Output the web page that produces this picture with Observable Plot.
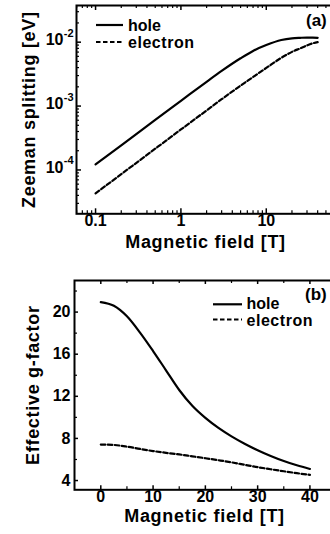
<!DOCTYPE html>
<html><head><meta charset="utf-8">
<script src="https://cdn.jsdelivr.net/npm/d3@7"></script>
<script src="https://cdn.jsdelivr.net/npm/@observablehq/plot@0.6"></script>
<style>
html,body{margin:0;padding:0;background:#fff;overflow:hidden;}
#chart svg{display:block;max-width:none !important;}
</style></head><body><div id="chart"></div>
<script>
// ---- Panel (a): Zeeman splitting vs magnetic field (log-log)
const fieldA = [0.1, 0.2, 0.5, 1, 2, 3, 5, 7, 10, 15, 20, 25, 30, 35, 40];
const holeSplit = [1.22e-4, 2.43e-4, 6.1e-4, 1.21e-3, 2.4e-3, 3.55e-3, 5.6e-3, 7.3e-3, 9.0e-3, 1.08e-2, 1.15e-2, 1.17e-2, 1.18e-2, 1.175e-2, 1.17e-2];
const electronSplit = [4.3e-5, 8.6e-5, 2.15e-4, 4.3e-4, 8.55e-4, 1.28e-3, 2.09e-3, 2.85e-3, 3.95e-3, 5.7e-3, 7.05e-3, 8.0e-3, 8.9e-3, 9.6e-3, 1.0e-2];
const xTicksA = [0.1, 1, 10];
const xTickLabelsA = ["0.1", "1", "10"];
const yTicksA = [1e-4, 1e-3, 1e-2];
const yTickExpA = ["-4", "-3", "-2"];

// ---- Panel (b): effective g-factor vs magnetic field
const fieldB = [0, 2.5, 5, 7.5, 10, 12.5, 15, 17.5, 20, 22.5, 25, 27.5, 30, 32.5, 35, 37.5, 40];
const holeG = [20.95, 20.6, 19.6, 18.05, 16.3, 14.45, 12.6, 11.1, 9.95, 9.0, 8.2, 7.5, 6.88, 6.33, 5.85, 5.45, 5.1];
const electronG = [7.42, 7.38, 7.22, 7.0, 6.8, 6.63, 6.48, 6.3, 6.12, 5.93, 5.73, 5.5, 5.27, 5.07, 4.88, 4.7, 4.54];
const xTicksB = [0, 10, 20, 30, 40];
const yTicksB = [4, 8, 12, 16, 20];

const seriesNames = ["hole", "electron"];
const panelTags = ["(a)", "(b)"];
const xTitle = "Magnetic field [T]";
const yTitleA = "Zeeman splitting [eV]";
const yTitleB = "Effective g-factor";

const FONT = "'Liberation Sans', Arial, Helvetica, sans-serif";
const W = 334;
const DASH = "4.5,2.5";

function legend(svg, x1, x2, y1, y2, tx, b1, b2) {
  const g = d3.select(svg).append("g")
    .attr("font-family", FONT).attr("font-weight", "bold").attr("font-size", 16)
    .attr("fill", "black").attr("text-anchor", "start");
  g.append("line").attr("x1", x1).attr("x2", x2).attr("y1", y1).attr("y2", y1)
    .attr("stroke", "black").attr("stroke-width", 2.2);
  g.append("line").attr("x1", x1).attr("x2", x2).attr("y1", y2).attr("y2", y2)
    .attr("stroke", "black").attr("stroke-width", 2.2).attr("stroke-dasharray", DASH);
  g.append("text").attr("x", tx).attr("y", b1).text(seriesNames[0]);
  g.append("text").attr("x", tx).attr("y", b2).attr("textLength", 66).attr("lengthAdjust", "spacing").text(seriesNames[1]);
  return g;
}
function tag(svg, x, y, t) {
  d3.select(svg).append("text").attr("x", x).attr("y", y).attr("text-anchor", "start")
    .attr("font-family", FONT).attr("font-weight", "bold").attr("font-size", 17).attr("fill", "black").text(t);
}
function spaceTitles(svg) {
  d3.select(svg).selectAll("text").filter(function() {
    const t = this.textContent; return t === xTitle || t === yTitleA || t === yTitleB;
  }).style("letter-spacing", "0.7px");
}

// ---------- Panel (a)
const hA = 265, mTopA = 5, mBotA = 265 - 213.3, mLeftA = 76;
const innerHA = hA - mTopA - mBotA, innerWA = W - mLeftA;
const xDomA = [0.0598, 63];
const yDomA = [2.06e-5, 0.0375];
const xMinorA = d3.scaleLog().domain(xDomA).ticks().filter(d => !xTicksA.some(t => Math.abs(t / d - 1) < 1e-6));
const yMinorA = d3.scaleLog().domain(yDomA).ticks().filter(d => !yTicksA.some(t => Math.abs(t / d - 1) < 1e-6));

const plotA = Plot.plot({
  width: W, height: hA, marginTop: mTopA, marginBottom: mBotA, marginLeft: mLeftA, marginRight: 0,
  style: {fontFamily: FONT, fontWeight: "bold", color: "black", background: "white", overflow: "visible"},
  x: {type: "log", domain: xDomA, axis: null},
  y: {type: "log", domain: yDomA, axis: null},
  marks: [
    Plot.line(fieldA, {x: d => d, y: (d, i) => holeSplit[i], stroke: "black", strokeWidth: 2.2, curve: "monotone-x"}),
    Plot.line(fieldA, {x: d => d, y: (d, i) => electronSplit[i], stroke: "black", strokeWidth: 2.2, strokeDasharray: DASH, curve: "monotone-x"}),
    Plot.tickX(xMinorA, {x: d => d, insetTop: innerHA - 3, stroke: "black", strokeWidth: 1.2}),
    Plot.tickX(xMinorA, {x: d => d, insetBottom: innerHA - 3, stroke: "black", strokeWidth: 1.2}),
    Plot.tickY(yMinorA, {y: d => d, insetRight: innerWA - 3, stroke: "black", strokeWidth: 1.2}),
    Plot.tickX(xTicksA, {x: d => d, insetTop: innerHA - 5, stroke: "black", strokeWidth: 1.5}),
    Plot.tickX(xTicksA, {x: d => d, insetBottom: innerHA - 5, stroke: "black", strokeWidth: 1.5}),
    Plot.tickY(yTicksA, {y: d => d, insetRight: innerWA - 5, stroke: "black", strokeWidth: 1.5}),
    Plot.frame({stroke: "black", strokeWidth: 2}),
    Plot.text(xTicksA, {x: d => d, text: (d, i) => xTickLabelsA[i], frameAnchor: "bottom", dy: 12, fontSize: 16, fill: "black"}),
    Plot.text(yTicksA, {y: d => d, text: () => "10", frameAnchor: "left", textAnchor: "end", dx: -13, dy: -2, fontSize: 16, fill: "black"}),
    Plot.text(yTicksA, {y: d => d, text: (d, i) => yTickExpA[i], frameAnchor: "left", textAnchor: "end", dx: -3, dy: -9, fontSize: 11, fill: "black"}),
    Plot.text([xTitle], {text: d => d, frameAnchor: "bottom", textAnchor: "middle", dy: 34, fontSize: 18, fill: "black"}),
    Plot.text([yTitleA], {text: d => d, frameAnchor: "left", textAnchor: "middle", rotate: -90, dx: -47, fontSize: 18, fill: "black"})
  ]
});
plotA.style.maxWidth = "none";
legend(plotA, 96, 123, 25, 42, 128, 31, 47.5);
tag(plotA, 306, 26, panelTags[0]);
spaceTitles(plotA);

// ---------- Panel (b)
const hB = 269, mTopB = 15, mBotB = 269 - 224.3, mLeftB = 74;
const innerHB = hB - mTopB - mBotB, innerWB = W - mLeftB;
const xDomB = [-5.03, 44.7];
const yDomB = [3.12, 23.0];
const xMinorB = d3.range(5, 45, 10);
const yMinorB = d3.range(6, 23, 4);

const plotB = Plot.plot({
  width: W, height: hB, marginTop: mTopB, marginBottom: mBotB, marginLeft: mLeftB, marginRight: 0,
  style: {fontFamily: FONT, fontWeight: "bold", color: "black", background: "white", overflow: "visible"},
  x: {domain: xDomB, axis: null},
  y: {domain: yDomB, axis: null},
  marks: [
    Plot.line(fieldB, {x: d => d, y: (d, i) => holeG[i], stroke: "black", strokeWidth: 2.2, curve: "monotone-x"}),
    Plot.line(fieldB, {x: d => d, y: (d, i) => electronG[i], stroke: "black", strokeWidth: 2.2, strokeDasharray: DASH, curve: "monotone-x"}),
    Plot.tickX(xMinorB, {x: d => d, insetTop: innerHB - 3, stroke: "black", strokeWidth: 1.2}),
    Plot.tickX(xMinorB, {x: d => d, insetBottom: innerHB - 3, stroke: "black", strokeWidth: 1.2}),
    Plot.tickY(yMinorB, {y: d => d, insetRight: innerWB - 3, stroke: "black", strokeWidth: 1.2}),
    Plot.tickX(xTicksB, {x: d => d, insetTop: innerHB - 4, stroke: "black", strokeWidth: 1.5}),
    Plot.tickX(xTicksB, {x: d => d, insetBottom: innerHB - 4, stroke: "black", strokeWidth: 1.5}),
    Plot.tickY(yTicksB, {y: d => d, insetRight: innerWB - 4, stroke: "black", strokeWidth: 1.5}),
    Plot.frame({stroke: "black", strokeWidth: 2}),
    Plot.text(xTicksB, {x: d => d, text: d => String(d), frameAnchor: "bottom", dy: 12, fontSize: 16, fill: "black"}),
    Plot.text(yTicksB, {y: d => d, text: d => String(d), frameAnchor: "left", textAnchor: "end", dx: -4, fontSize: 16, fill: "black"}),
    Plot.text([xTitle], {text: d => d, frameAnchor: "bottom", textAnchor: "middle", dy: 32.5, fontSize: 18, fill: "black"}),
    Plot.text([yTitleB], {text: d => d, frameAnchor: "left", textAnchor: "middle", rotate: -90, dx: -41, fontSize: 18, fill: "black"})
  ]
});
plotB.style.maxWidth = "none";
legend(plotB, 213, 242, 39.3, 54.5, 246.5, 43.5, 60.5);
tag(plotB, 305, 35, panelTags[1]);
spaceTitles(plotB);

document.getElementById("chart").append(plotA, plotB);
</script>
</body></html>
